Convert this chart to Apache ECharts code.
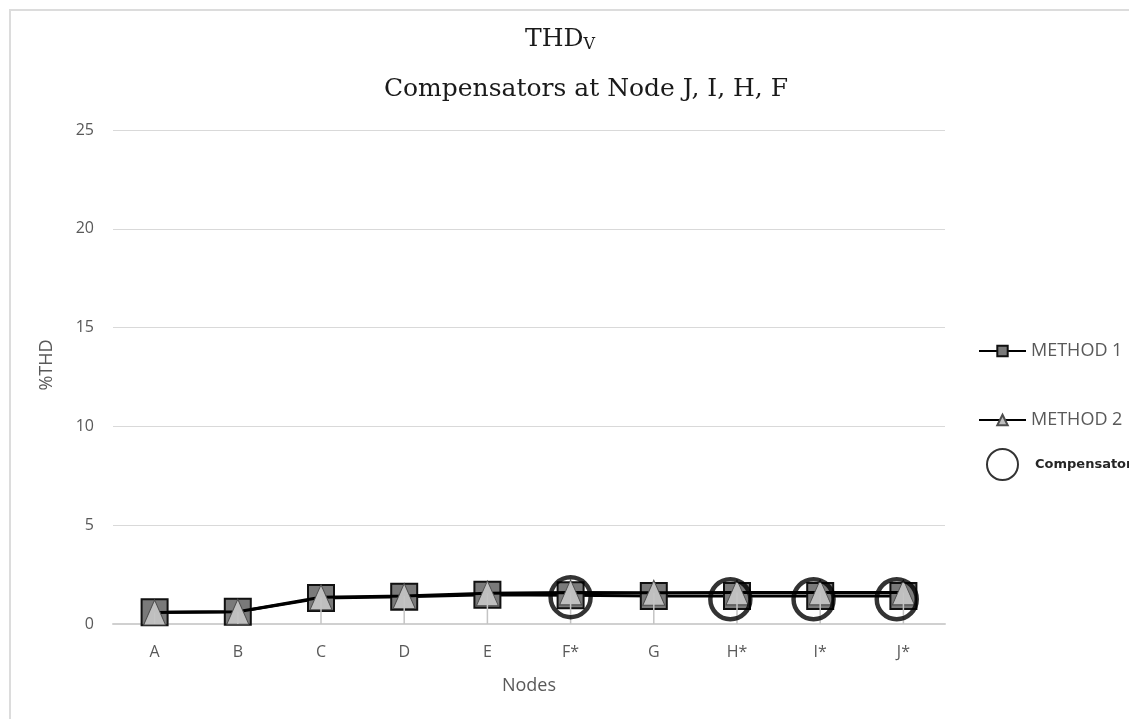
<!DOCTYPE html>
<html>
<head>
<meta charset="utf-8">
<script src="https://cdn.jsdelivr.net/npm/echarts@6/dist/echarts.min.js"></script>
<style>
  html, body { margin: 0; padding: 0; background: #ffffff; }
  #chart { width: 1129px; height: 719px; }
</style>
</head>
<body>
<div id="chart"></div>
<script>
// Network nodes (starred nodes carry a compensator)
const nodes = ['A', 'B', 'C', 'D', 'E', 'F*', 'G', 'H*', 'I*', 'J*'];
// Voltage THD (%) per node for each method
const method1 = [0.60, 0.62, 1.31, 1.38, 1.48, 1.45, 1.42, 1.42, 1.42, 1.42];
const method2 = [0.58, 0.62, 1.35, 1.42, 1.55, 1.60, 1.58, 1.60, 1.60, 1.60];
// Compensator markers: position along the node axis (category index) and %THD
const compensatorPos = [5, 6.92, 7.92, 8.92];
const compensatorThd = [1.36, 1.25, 1.25, 1.25];
// Y axis ticks
const yTicks = [0, 5, 10, 15, 20, 25];

const labelFont = '"Open Sans", "DejaVu Sans", sans-serif';
const titleFont = '"DejaVu Serif", "Liberation Serif", serif';
const gridColor = '#d9d9d9';
const textGray = '#595959';

const chart = echarts.init(document.getElementById('chart'), null, { renderer: 'canvas' });

chart.setOption({
  backgroundColor: '#ffffff',
  animation: false,
  title: [
    {
      text: '{t|THD}{s|V}',
      left: 555,
      top: 20,
      textAlign: 'center',
      textStyle: {
        fontWeight: 'normal',
        rich: {
          t: { fontFamily: titleFont, fontSize: 25, fontWeight: 'normal', color: '#1a1a1a' },
          s: { fontFamily: titleFont, fontSize: 16, fontWeight: 'normal', color: '#1a1a1a', verticalAlign: 'bottom', padding: [12, 0, 0, 0] }
        }
      }
    },
    {
      text: 'Compensators at Node J, I, H, F',
      left: 581,
      top: 72,
      textAlign: 'center',
      textStyle: { fontFamily: titleFont, fontSize: 25, fontWeight: 'normal', color: '#1a1a1a' }
    }
  ],
  graphic: [
    {
      type: 'rect',
      silent: true,
      shape: { x: 10, y: 10, width: 1300, height: 900 },
      style: { fill: 'none', stroke: '#dcdcdc', lineWidth: 2 }
    }
  ],
  legend: [
    {
      data: ['METHOD 1'],
      left: 973, top: 337,
      itemWidth: 47, itemHeight: 13,
      textStyle: { fontFamily: labelFont, fontSize: 18, color: textGray }
    },
    {
      data: ['METHOD 2'],
      left: 973, top: 406,
      itemWidth: 47, itemHeight: 13,
      textStyle: { fontFamily: labelFont, fontSize: 18, color: textGray }
    },
    {
      data: ['Compensator'],
      left: 981, top: 443,
      itemWidth: 31, itemHeight: 31,
      textStyle: { fontFamily: '"DejaVu Sans", sans-serif', fontSize: 13, fontWeight: 'bold', color: '#262626', padding: [4, 0, 0, 12] }
    }
  ],
  grid: { left: 113, right: 184, top: 130, bottom: 95, containLabel: false },
  xAxis: [
    {
      type: 'category',
      data: nodes,
      boundaryGap: true,
      axisLine: { lineStyle: { color: '#d0d0d0', width: 2 } },
      axisTick: { show: false },
      axisLabel: { fontFamily: labelFont, fontSize: 16, color: textGray, margin: 20 },
      name: 'Nodes',
      nameLocation: 'middle',
      nameGap: 53,
      nameTextStyle: { fontFamily: labelFont, fontSize: 18, color: textGray }
    },
    {
      // hidden numeric twin of the node axis for the compensator rings
      type: 'value',
      min: -0.5,
      max: nodes.length - 0.5,
      show: false
    }
  ],
  yAxis: {
    type: 'value',
    min: yTicks[0],
    max: yTicks[yTicks.length - 1],
    interval: yTicks[1] - yTicks[0],
    axisLine: { show: false },
    axisTick: { show: false },
    splitLine: { lineStyle: { color: gridColor, width: 1 } },
    axisLabel: { fontFamily: labelFont, fontSize: 16, color: textGray, margin: 19 },
    name: '%THD',
    nameLocation: 'middle',
    nameGap: 57,
    nameRotate: 90,
    nameTextStyle: { fontFamily: labelFont, fontSize: 18, color: textGray, padding: [0, 0, 0, 24] }
  },
  series: [
    {
      // drop lines from each point down to the node axis
      name: 'drop',
      type: 'bar',
      data: method2,
      barWidth: 1.5,
      silent: true,
      itemStyle: { color: '#c4c4c4' },
      z: 5
    },
    {
      name: 'METHOD 1',
      type: 'line',
      data: method1,
      symbol: 'rect',
      symbolSize: 26,
      lineStyle: { color: '#000000', width: 3 },
      itemStyle: { color: '#7a7a7a', borderColor: '#111111', borderWidth: 2 },
      z: 2
    },
    {
      name: 'METHOD 2',
      type: 'line',
      data: method2,
      symbol: 'triangle',
      symbolSize: [22, 25],
      lineStyle: { color: '#000000', width: 3 },
      itemStyle: { color: '#bfbfbf', borderColor: '#4d4d4d', borderWidth: 1 },
      z: 3
    },
    {
      name: 'Compensator',
      type: 'scatter',
      xAxisIndex: 1,
      data: compensatorPos.map((p, i) => [p, compensatorThd[i]]),
      symbol: 'circle',
      symbolSize: 40,
      itemStyle: { color: 'rgba(0,0,0,0)', borderColor: '#000000', borderWidth: 4.5 },
      z: 6
    }
  ]
});
</script>
</body>
</html>
